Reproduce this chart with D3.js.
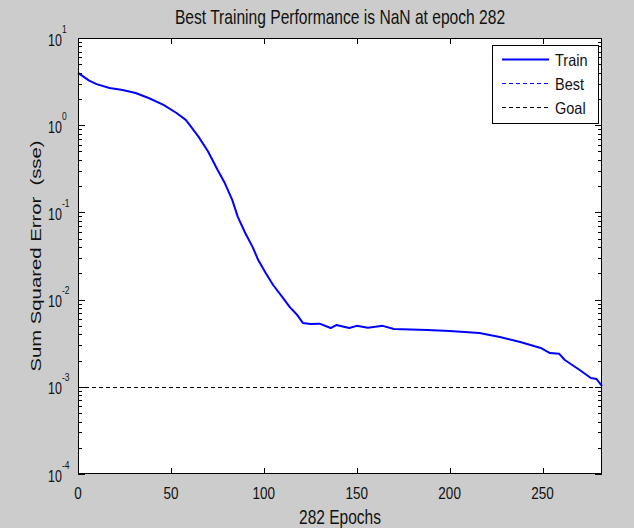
<!DOCTYPE html>
<html>
<head>
<meta charset="utf-8">
<script src="https://cdn.jsdelivr.net/npm/d3@7"></script>
<style>
  body { margin: 0; background: #cccccc; }
  svg { display: block; font-family: "Liberation Sans", Arial, sans-serif; }
  text { white-space: pre; fill: #111; }
</style>
</head>
<body>
<div id="chart"></div>
<script>
// training record (epoch, sum squared error)
const epochs = [0, 1, 6, 10, 17, 24, 31, 38, 46, 53, 58, 61, 65, 70, 75, 79, 83, 86, 90, 94, 97,
  101, 105, 110, 114, 118, 121, 125, 130, 136, 139, 146, 150, 156, 164, 170, 188, 200,
  216, 227, 238, 249, 254, 259, 262, 266, 270, 276, 279, 282];
const sse = [4.0, 3.85, 3.24, 2.96, 2.67, 2.53, 2.34, 2.05, 1.71, 1.38, 1.15, 0.95, 0.73, 0.50, 0.31,
  0.217, 0.139, 0.089, 0.058, 0.040, 0.0284, 0.0202, 0.0147, 0.0107, 0.0082, 0.00665, 0.0054,
  0.00525, 0.0053, 0.00472, 0.0051, 0.00472, 0.0050, 0.00475, 0.0050, 0.0046, 0.00448, 0.00436,
  0.00414, 0.00372, 0.00327, 0.00279, 0.00244, 0.00239, 0.00203, 0.00178, 0.00156, 0.00126,
  0.00123, 0.00102];
const goal = 1e-3;
const xTicks = [0, 50, 100, 150, 200, 250];
const yExponents = [1, 0, -1, -2, -3, -4];
const legendItems = ['Train', 'Best', 'Goal'];

const width = 634, height = 528;
const margin = { top: 38, right: 32, bottom: 54, left: 78 };
const iw = width - margin.left - margin.right;
const ih = height - margin.top - margin.bottom;
const stretch = 1.28; // the reference glyphs are taller than they are wide

const svg = d3.select('#chart').append('svg')
  .attr('width', width)
  .attr('height', height);

svg.append('rect').attr('width', width).attr('height', height).attr('fill', '#cccccc');

// text drawn with a vertical stretch
function label(parent, x, y, size, anchor, str, k) {
  return parent.append('text')
    .attr('transform', 'translate(' + x + ',' + y + ') scale(1,' + (k || stretch) + ')')
    .attr('text-anchor', anchor)
    .attr('font-size', size)
    .text(str);
}

const g = svg.append('g')
  .attr('transform', 'translate(' + margin.left + ',' + margin.top + ')');

const x = d3.scaleLinear().domain([0, 282]).range([0, iw]);
const y = d3.scaleLog().domain([1e-4, 1e1]).range([ih, 0]);

g.append('rect').attr('width', iw).attr('height', ih).attr('fill', '#fff');

// minor log ticks 2..9 in each decade
const minor = [];
for (let e = -4; e < 1; e++) {
  for (let m = 2; m <= 9; m++) minor.push(m * Math.pow(10, e));
}

const ticks = g.append('g').attr('stroke', '#000').attr('stroke-width', 1);
minor.forEach(v => {
  const yy = Math.round(y(v)) + 0.5;
  ticks.append('line').attr('x1', 0).attr('x2', 4).attr('y1', yy).attr('y2', yy);
  ticks.append('line').attr('x1', iw).attr('x2', iw - 4).attr('y1', yy).attr('y2', yy);
});
yExponents.forEach(e => {
  const yy = Math.round(y(Math.pow(10, e))) + 0.5;
  ticks.append('line').attr('x1', 0).attr('x2', 7).attr('y1', yy).attr('y2', yy);
  ticks.append('line').attr('x1', iw).attr('x2', iw - 7).attr('y1', yy).attr('y2', yy);
});
xTicks.forEach(t => {
  const xx = Math.round(x(t)) + 0.5;
  ticks.append('line').attr('x1', xx).attr('x2', xx).attr('y1', ih).attr('y2', ih - 6);
  ticks.append('line').attr('x1', xx).attr('x2', xx).attr('y1', 0).attr('y2', 6);
});

// goal line
g.append('line')
  .attr('x1', x(0)).attr('x2', x(282))
  .attr('y1', Math.round(y(goal)) + 0.5).attr('y2', Math.round(y(goal)) + 0.5)
  .attr('stroke', '#000').attr('stroke-width', 1)
  .attr('stroke-dasharray', '4,3');

// train curve
const line = d3.line()
  .x((d, i) => x(epochs[i]))
  .y(d => y(d));

g.append('path')
  .datum(sse)
  .attr('fill', 'none')
  .attr('stroke', '#0000ff')
  .attr('stroke-width', 2)
  .attr('stroke-linejoin', 'round')
  .attr('d', line);

// axes box
g.append('rect')
  .attr('x', 0.5).attr('y', 0.5)
  .attr('width', iw - 1).attr('height', ih - 1)
  .attr('fill', 'none').attr('stroke', '#000');

// tick labels
xTicks.forEach(t => label(g, x(t), ih + 25, 13.5, 'middle', String(t)));

yExponents.forEach(e => {
  const yy = y(Math.pow(10, e));
  label(g, -30, yy + 7.5, 12.5, 'start', '10');
  label(g, -16, yy - 5.5, 8.5, 'start', String(e), 1.2);
});

// titles
label(svg, margin.left + iw / 2, 24, 15.6, 'middle', 'Best Training Performance is NaN at epoch 282');
label(svg, margin.left + iw / 2, 524, 15.5, 'middle', '282 Epochs');

svg.append('text')
  .attr('transform', 'translate(41,' + (margin.top + ih / 2) + ') rotate(-90) scale(1.45,1)')
  .attr('text-anchor', 'middle').attr('font-size', 14)
  .text('Sum Squared Error  (sse)');

// legend
const lg = svg.append('g').attr('transform', 'translate(492,45)');
lg.append('rect').attr('x', 0.5).attr('y', 0.5).attr('width', 106).attr('height', 78)
  .attr('fill', '#fff').attr('stroke', '#000');
const legendStyle = [
  { color: '#0000ff', w: 2, dash: null },
  { color: '#0000ff', w: 1, dash: '4,3' },
  { color: '#000', w: 1, dash: '4,3' }
];
legendItems.forEach((name, i) => {
  const yy = 14.5 + i * 24;
  lg.append('line')
    .attr('x1', 10).attr('x2', 57).attr('y1', yy).attr('y2', yy)
    .attr('stroke', legendStyle[i].color)
    .attr('stroke-width', legendStyle[i].w)
    .attr('stroke-dasharray', legendStyle[i].dash);
  label(lg, 63, yy + 6, 14.5, 'start', name, 1.15);
});
</script>
</body>
</html>
